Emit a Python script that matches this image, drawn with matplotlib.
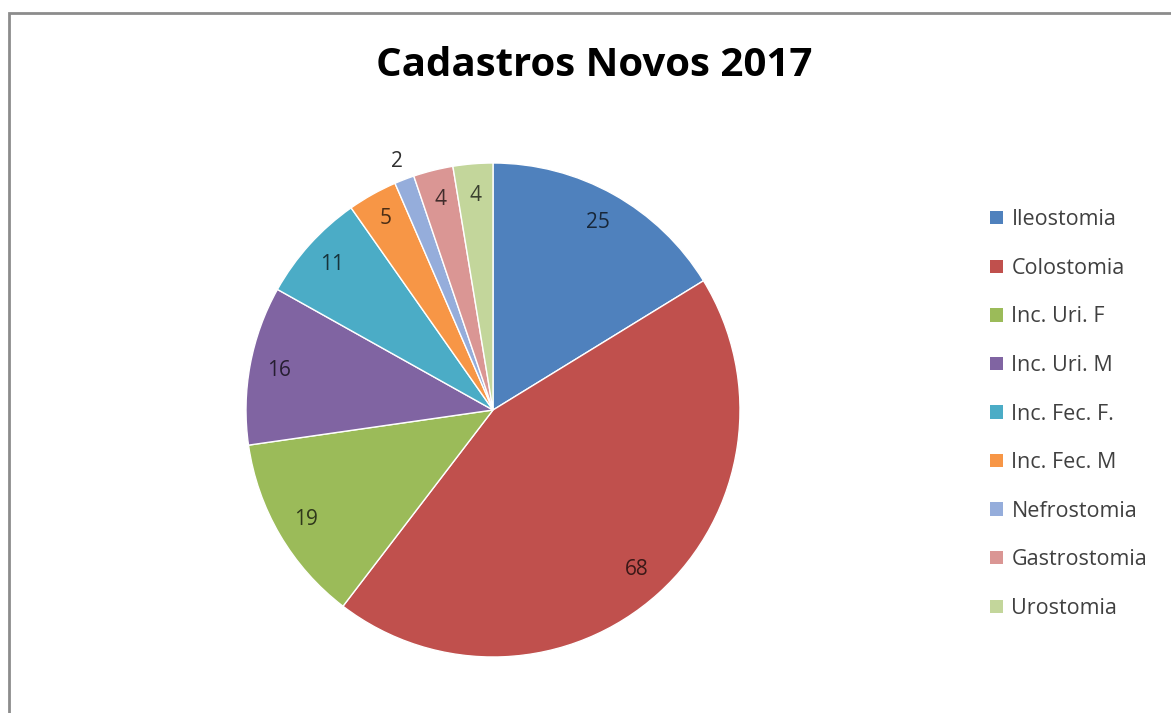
import matplotlib.pyplot as plt
from matplotlib.patches import Rectangle, Patch
import numpy as np

plt.rcParams['font.family'] = ['Open Sans', 'DejaVu Sans']

categories = ['Ileostomia', 'Colostomia', 'Inc. Uri. F', 'Inc. Uri. M', 'Inc. Fec. F.',
              'Inc. Fec. M', 'Nefrostomia', 'Gastrostomia', 'Urostomia']
values = [25, 68, 19, 16, 11, 5, 2, 4, 4]
colors = ['#4F81BD', '#C0504D', '#9BBB59', '#8064A2', '#4BACC6',
          '#F79646', '#95ADDB', '#DA9694', '#C3D69B']
label_dist = [0.87, 0.87, 0.88, 0.88, 0.88, 0.89, 1.08, 0.88, 0.87]

W, H = 1171, 713
fig = plt.figure(figsize=(W / 100, H / 100), dpi=100)

# outer chart frame (cut off on right and bottom like the screenshot)
fig.patches.append(Rectangle((9 / W, -0.05), 1.2, (H - 13) / H + 0.05,
                             transform=fig.transFigure, fill=False,
                             edgecolor='#8c8c8c', linewidth=2))

cx, cy, r = 493, 410, 247
ax = fig.add_axes([(cx - r) / W, (H - cy - r) / H, 2 * r / W, 2 * r / H])
wedges, _ = ax.pie(values, colors=colors, startangle=90, counterclock=False,
                   radius=1, wedgeprops=dict(linewidth=1, edgecolor='white'))
ax.set_xlim(-1, 1)
ax.set_ylim(-1, 1)
ax.set_aspect('equal')
ax.axis('off')

for w, v, d, c in zip(wedges, values, label_dist, colors):
    ang = np.deg2rad((w.theta1 + w.theta2) / 2)
    rgb = np.array(plt.matplotlib.colors.to_rgb(c))
    tc = '#303030' if d > 1 else tuple(rgb * 0.3)
    ax.text(d * np.cos(ang), d * np.sin(ang), str(v), ha='center', va='center',
            fontsize=15, color=tc)

fig.text(594 / W, 1 - 65 / H, 'Cadastros Novos 2017', ha='center', va='center',
         fontsize=29, fontweight='bold', color='black')

handles = [Patch(facecolor=c, edgecolor='none') for c in colors]
fig.legend(handles, categories, loc='upper left',
           bbox_to_anchor=(971 / W, 1 - 190 / H), frameon=False,
           fontsize=15.5, labelspacing=1.28, handlelength=0.58, handleheight=0.58,
           handletextpad=0.4, labelcolor='#404040')

fig.savefig('out.png', dpi=100, facecolor='white')
